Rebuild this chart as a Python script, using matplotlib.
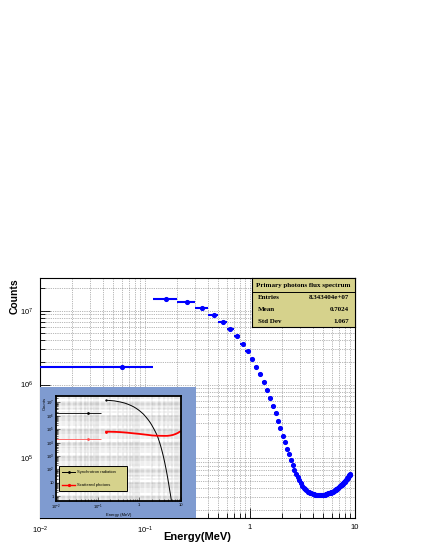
import matplotlib.pyplot as plt
import numpy as np
from matplotlib.patches import Rectangle
from matplotlib.ticker import FixedLocator, FixedFormatter, LogLocator, NullFormatter

plt.rcParams['font.family'] = ['Liberation Sans', 'DejaVu Sans']
plt.rcParams['mathtext.default'] = 'regular'

# Main histogram: primary photons (bin edges in MeV, counts)
bin_lo = [0.0, 0.12] + list(np.arange(2, 91) / 10)
bin_hi = [0.12, 0.2] + list(np.arange(3, 92) / 10)
counts = [1.71e6, 1.46e7,
          1.3e7, 1.08e7, 8.85e6, 7.1e6, 5.65e6, 4.5e6, 3.55e6, 2.8e6,
          2.2e6, 1.73e6, 1.38e6, 1.08e6, 8.3e5, 6.5e5, 5.15e5, 4.15e5, 3.24e5, 2.6e5,
          2.04e5, 1.67e5, 1.35e5, 1.13e5, 9.6e4, 8.2e4, 7.0e4, 6.2e4, 5.6e4, 5.05e4,
          4.6e4, 4.28e4, 4.02e4, 3.82e4, 3.68e4, 3.55e4, 3.46e4, 3.4e4, 3.35e4, 3.3e4,
          3.27e4, 3.24e4, 3.21e4, 3.19e4, 3.17e4, 3.16e4, 3.16e4, 3.16e4, 3.17e4, 3.18e4,
          3.2e4, 3.23e4, 3.26e4, 3.29e4, 3.32e4, 3.35e4, 3.38e4, 3.41e4, 3.44e4, 3.48e4,
          3.52e4, 3.56e4, 3.6e4, 3.65e4, 3.7e4, 3.76e4, 3.82e4, 3.88e4, 3.95e4, 4.02e4,
          4.1e4, 4.17e4, 4.25e4, 4.33e4, 4.41e4, 4.49e4, 4.57e4, 4.65e4, 4.74e4, 4.83e4,
          4.92e4, 5.02e4, 5.12e4, 5.23e4, 5.35e4, 5.48e4, 5.62e4, 5.77e4, 5.92e4, 6.05e4,
          6.15e4]

# Inset: synchrotron radiation and scattered photons
syn_first = (0.06, 1.7e6)
syn_e = [0.16, 0.25, 0.35, 0.45, 0.55, 0.65, 0.75, 0.85, 0.95, 1.05, 1.25, 1.45, 1.65,
         1.85, 2.05, 2.25, 2.45, 2.65, 2.85, 3.05, 3.25, 3.45, 3.65, 3.85, 4.05, 4.25,
         4.45, 4.65, 4.85, 5.05, 5.25, 5.45, 5.65, 5.85, 6.05]
syn_v = [1.45e7, 1.3e7, 1.07e7, 8.8e6, 7.0e6, 5.6e6, 4.45e6, 3.5e6, 2.75e6, 2.15e6,
         1.34e6, 7.9e5, 4.8e5, 2.9e5, 1.7e5, 1.0e5, 6.0e4, 3.6e4, 2.0e4, 1.05e4, 5.5e3,
         2.8e3, 1.4e3, 700, 340, 165, 80, 38, 18, 8.5, 4, 2, 1, 0.5, 0.3]
sca_first = (0.06, 1.74e4)
sca_e = [0.16, 0.25, 0.35, 0.5, 0.7, 1.0, 1.5, 2.0, 2.5, 3.0, 3.5, 4.0, 4.65, 5.5, 6.5,
         7.5, 8.5, 9.05, 9.6]
sca_v = [6.5e4, 6.3e4, 6.0e4, 5.5e4, 4.9e4, 4.4e4, 3.8e4, 3.4e4, 3.25e4, 3.2e4, 3.17e4,
         3.16e4, 3.16e4, 3.35e4, 3.75e4, 4.4e4, 5.3e4, 6.1e4, 6.6e4]

khaki = '#d6d28c'
grid_kw = dict(color='0.45', linestyle=(0, (1, 1.6)), linewidth=0.5)

fig = plt.figure(figsize=(4.25, 5.5), dpi=100)

# ---- main axes ----
ax = fig.add_axes([40/425, 1-518/550, 315/425, 240/550])
ax.set_xscale('log')
ax.set_yscale('log')
ax.set_xlim(0.01, 10)
ax.set_ylim(10**4.193, 10**7.442)
ax.set_axisbelow(True)

lo = np.array(bin_lo)
hi = np.array(bin_hi)
centers = (lo + hi) / 2
ax.errorbar(centers, counts, xerr=[centers - lo, hi - centers], fmt='o', color='#0000ff',
            ms=2.7, elinewidth=1.5, capsize=0, zorder=3)

ax.xaxis.set_major_locator(FixedLocator([0.01, 0.1, 1, 10]))
ax.xaxis.set_major_formatter(FixedFormatter(['$10^{-2}$', '$10^{-1}$', '1', '10']))
ax.xaxis.set_minor_locator(LogLocator(base=10, subs=np.arange(2, 10)))
ax.xaxis.set_minor_formatter(NullFormatter())
ax.yaxis.set_major_locator(FixedLocator([1e5, 1e6, 1e7]))
ax.yaxis.set_major_formatter(FixedFormatter(['$10^{5}$', '$10^{6}$', '$10^{7}$']))
ax.yaxis.set_minor_locator(LogLocator(base=10, subs=np.arange(2, 10)))
ax.yaxis.set_minor_formatter(NullFormatter())
ax.tick_params(which='both', direction='in', labelsize=5.5, width=0.6)
ax.tick_params(which='major', length=7, pad=4.5)
ax.tick_params(which='minor', length=3.5)
ax.grid(True, which='both', **grid_kw)
for s in ax.spines.values():
    s.set_linewidth(0.8)

fig.text(15/425, 1-296/550, 'Counts', rotation=90, ha='center', va='center',
         fontsize=7.5, fontweight='bold')
fig.text(197/425, 1-537/550, 'Energy(MeV)', ha='center', va='center',
         fontsize=8, fontweight='bold')

# ---- statistics box ----
sb = fig.add_axes([252.3/425, 1-327.3/550, 102.7/425, 49/550])
sb.set_facecolor(khaki)
sb.set_xticks([])
sb.set_yticks([])
sb.set_xlim(0, 1)
sb.set_ylim(0, 1)
for s in sb.spines.values():
    s.set_linewidth(0.8)
sb.axhline(0.7265, color='black', lw=0.7)
tkw = dict(family=['Liberation Serif', 'DejaVu Serif'], fontweight='bold', fontsize=5)
sb.text(0.5, 0.863, 'Primary photons flux spectrum', ha='center', va='center', **tkw)
for yy, name, val in [(0.612, 'Entries', '8.343404e+07'), (0.367, 'Mean', '0.7024'),
                      (0.122, 'Std Dev', '1.067')]:
    sb.text(0.058, yy, name, ha='left', va='center', **tkw)
    sb.text(0.94, yy, val, ha='right', va='center', **tkw)

# ---- inset background ----
bg = fig.add_axes([40/425, 1-518/550, 155.7/425, 131.3/550])
bg.set_facecolor('#7f9bd0')
bg.set_xticks([])
bg.set_yticks([])
for s in bg.spines.values():
    s.set_visible(False)

# ---- inset plot ----
ins = fig.add_axes([56/425, 1-500.7/550, 125/425, 105/550])
ins.set_xscale('log')
ins.set_yscale('log')
ins.set_xlim(0.01, 10)
ins.set_ylim(10**-0.35, 10**7.5)
ins.set_axisbelow(True)
ins.errorbar([syn_first[0]], [syn_first[1]], xerr=[[syn_first[0] - 0.0001], [0.06]],
             fmt='o', color='black', ms=1, elinewidth=0.6)
ins.plot(syn_e, syn_v, color='black', lw=0.7, marker='o', ms=0.6, markevery=[0])
ins.errorbar([sca_first[0]], [sca_first[1]], xerr=[[sca_first[0] - 0.0001], [0.06]],
             fmt='o', color='#ff5050', ms=1, elinewidth=0.6)
ins.plot(sca_e, sca_v, color='#ff0000', lw=1.3, marker='o', ms=1, markevery=[0])

ins.xaxis.set_major_locator(FixedLocator([0.01, 0.1, 1, 10]))
ins.xaxis.set_major_formatter(FixedFormatter(['$10^{-2}$', '$10^{-1}$', '1', '10']))
ins.xaxis.set_minor_locator(LogLocator(base=10, subs=np.arange(2, 10)))
ins.xaxis.set_minor_formatter(NullFormatter())
ydec = [1, 10, 1e2, 1e3, 1e4, 1e5, 1e6, 1e7]
ins.yaxis.set_major_locator(FixedLocator(ydec))
ins.yaxis.set_major_formatter(FixedFormatter(['1', '10', '$10^{2}$', '$10^{3}$', '$10^{4}$',
                                              '$10^{5}$', '$10^{6}$', '$10^{7}$']))
ins.yaxis.set_minor_locator(LogLocator(base=10, subs=np.arange(2, 10)))
ins.yaxis.set_minor_formatter(NullFormatter())
ins.tick_params(which='both', direction='in', labelsize=3, width=0.4, pad=1.5)
ins.tick_params(which='major', length=3)
ins.tick_params(which='minor', length=1.5)
ins.grid(True, which='both', color='0.5', linestyle=(0, (1, 1.5)), linewidth=0.35)
for s in ins.spines.values():
    s.set_linewidth(1.3)
ins.set_xlabel('Energy (MeV)', fontsize=3, labelpad=1)
fig.text(45/425, 1-403/550, 'Counts', rotation=90, ha='center', va='center', fontsize=3)

# inset legend
ins.add_patch(Rectangle((0.026, 0.095), 0.544, 0.238, transform=ins.transAxes,
                        facecolor=khaki, edgecolor='black', lw=0.7, zorder=5))
ins.plot([0.05, 0.15], [0.273, 0.273], transform=ins.transAxes, color='black', lw=0.7,
         zorder=6)
ins.plot([0.1], [0.273], transform=ins.transAxes, color='black', marker='o', ms=1, zorder=6)
ins.text(0.17, 0.273, 'Synchrotron radiation', transform=ins.transAxes, fontsize=3,
         va='center', zorder=6)
ins.plot([0.05, 0.15], [0.15, 0.15], transform=ins.transAxes, color='#ff0000', lw=1,
         zorder=6)
ins.plot([0.1], [0.15], transform=ins.transAxes, color='#ff0000', marker='o', ms=1.3,
         zorder=6)
ins.text(0.17, 0.15, 'Scattered photons', transform=ins.transAxes, fontsize=3,
         va='center', zorder=6)

plt.savefig('out.png', dpi=100)
